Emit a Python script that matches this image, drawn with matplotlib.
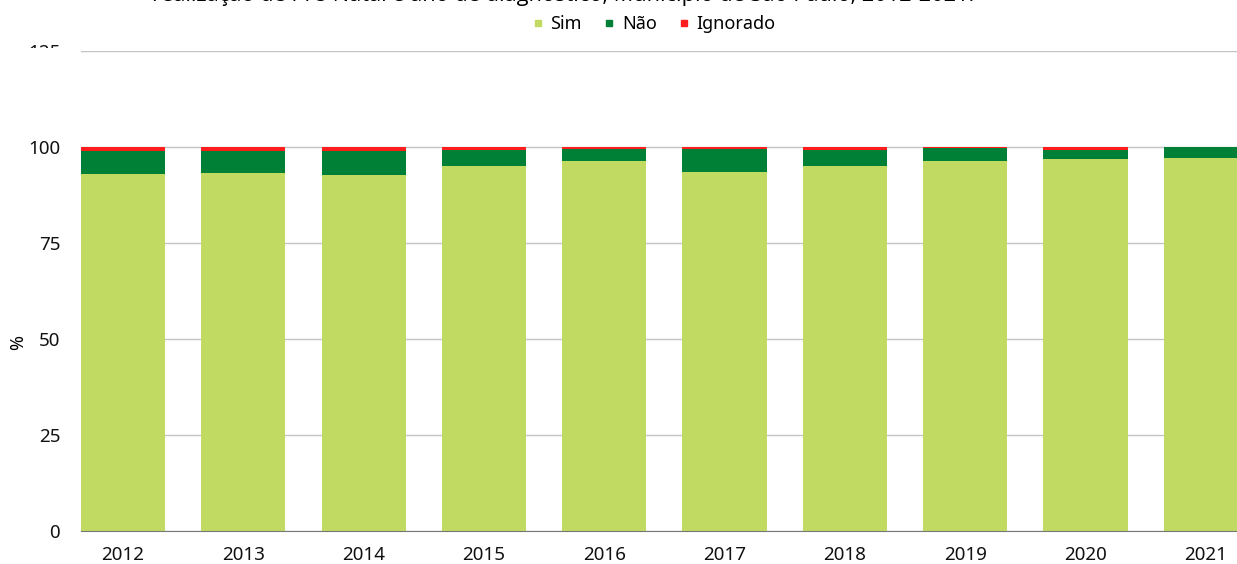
import matplotlib
matplotlib.use("Agg")
import matplotlib.pyplot as plt
from matplotlib.lines import Line2D
from matplotlib.patches import Rectangle
import numpy as np

plt.rcParams['font.family'] = ['Noto Sans', 'DejaVu Sans']

years = ['2012', '2013', '2014', '2015', '2016', '2017', '2018', '2019', '2020', '2021']
sim = [93.0, 93.3, 92.7, 95.0, 96.3, 93.5, 95.0, 96.3, 96.9, 97.1]
nao = [6.0, 5.7, 6.3, 4.2, 3.1, 6.0, 4.2, 3.4, 2.3, 2.9]
ignorado = [1.0, 1.0, 1.0, 0.8, 0.6, 0.5, 0.8, 0.3, 0.8, 0.0]

c_sim = '#c1da62'
c_nao = '#007f37'
c_ign = '#ff1c1c'

W, H = 1237, 564
fig = plt.figure(figsize=(W / 100, H / 100), dpi=100)
ax = fig.add_axes([81 / W, 1 - 531 / H, 1 - 81 / W, (531 - 51) / H])

x = np.arange(len(years))
sim = np.array(sim)
nao = np.array(nao)
ignorado = np.array(ignorado)

ax.bar(x, sim, width=0.7, color=c_sim, zorder=2)
ax.bar(x, nao, width=0.7, bottom=sim, color=c_nao, zorder=2)
ax.bar(x, ignorado, width=0.7, bottom=sim + nao, color=c_ign, zorder=2)

ax.set_xlim(-0.35, 9.26)
ax.set_ylim(0, 125)
ax.set_yticks(np.arange(0, 126, 25))
ax.set_xticks(x)
ax.set_xticklabels(years)
ax.grid(axis='y', color='#c4c4c4', linewidth=1, zorder=0)
ax.tick_params(length=0, labelsize=13.5, colors='#111111')
ax.tick_params(axis='y', pad=15)
ax.tick_params(axis='x', pad=11)
for s in ['left', 'right', 'top']:
    ax.spines[s].set_visible(False)
ax.spines['bottom'].set_color('#777777')
ax.spines['bottom'].set_zorder(3)

fig.text(18 / W, 1 - 343 / H, '%', rotation=90, ha='center', va='center', fontsize=13)

# the "125" label is clipped at its lower half in the source chart
fig.add_artist(Rectangle((0, 1 - 62 / H), 78 / W, 14 / H, transform=fig.transFigure,
                         facecolor='white', edgecolor='none', zorder=10))

fig.text(563 / W, 1 - 1 / H,
         'realização de Pré-Natal e ano de diagnóstico, Município de São Paulo, 2012-2021.',
         ha='center', va='baseline', fontsize=15.7, family='Open Sans', zorder=11)

handles = [Line2D([], [], marker='s', linestyle='none', markersize=5, color=c)
           for c in [c_sim, c_nao, c_ign]]
fig.legend(handles, ['Sim', 'Não', 'Ignorado'], loc='center', bbox_to_anchor=(654 / W, 1 - 24 / H),
           ncol=3, frameon=False, fontsize=13, handlelength=0.6, handletextpad=0.4,
           columnspacing=1.2)

fig.savefig('out.png', dpi=100)
